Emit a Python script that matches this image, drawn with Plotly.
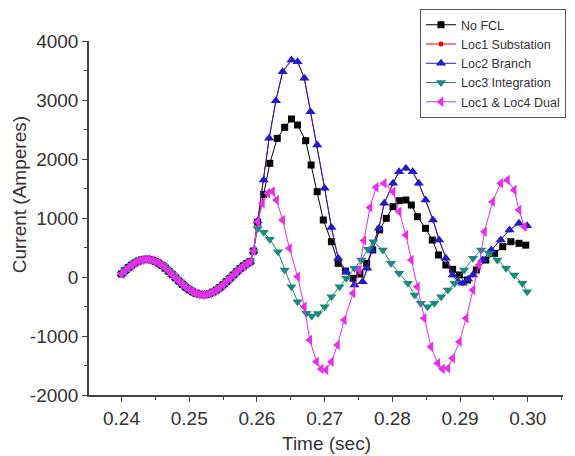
import plotly.graph_objects as go

# ---- shared pre-fault samples (all five cases coincide) ----
pre_t = [0.2400, 0.2405, 0.2410, 0.2415, 0.2420, 0.2425, 0.2430, 0.2435, 0.2440, 0.2445,
         0.2450, 0.2455, 0.2460, 0.2465, 0.2470, 0.2475, 0.2480, 0.2485, 0.2490, 0.2495,
         0.2500, 0.2505, 0.2510, 0.2515, 0.2520, 0.2525, 0.2530, 0.2535, 0.2540, 0.2545,
         0.2550, 0.2555, 0.2560, 0.2565, 0.2570, 0.2575, 0.2580, 0.2585, 0.2590, 0.2595]
pre_v = [52, 107, 158, 203, 240, 270, 290, 299, 298, 286,
         265, 233, 194, 148, 96, 41, -15, -71, -124, -173,
         -216, -251, -278, -294, -300, -295, -280, -255, -221, -179,
         -131, -78, -22, 34, 89, 141, 188, 229, 261, 440]

# ---- post-fault samples per case ----
black_t = [0.2601, 0.2610, 0.2619, 0.2630, 0.2641, 0.2651, 0.2660, 0.2672, 0.2680, 0.2689,
           0.2698, 0.2710, 0.2720, 0.2731, 0.2742, 0.2752, 0.2762, 0.2771, 0.2781, 0.2791,
           0.2801, 0.2810, 0.2820, 0.2828, 0.2837, 0.2849, 0.2859, 0.2868, 0.2879, 0.2889,
           0.2899, 0.2911, 0.2924, 0.2938, 0.2951, 0.2963, 0.2975, 0.2987, 0.2997]
black_v = [930, 1400, 1927, 2350, 2537, 2678, 2576, 2310, 1898, 1446,
           966, 598, 232, 100, -22, 50, 230, 458, 797, 995,
           1192, 1293, 1305, 1220, 1022, 825, 627, 373, 203, 130,
           34, -51, 119, 288, 401, 514, 598, 571, 540]

blue_t = [0.2601, 0.2610, 0.2618, 0.2628, 0.2638, 0.2651, 0.2660, 0.2670, 0.2679, 0.2689,
          0.2700, 0.2710, 0.2720, 0.2732, 0.2744, 0.2756, 0.2763, 0.2769, 0.2780, 0.2788,
          0.2801, 0.2810, 0.2820, 0.2830, 0.2839, 0.2849, 0.2860, 0.2869, 0.2879, 0.2889,
          0.2897, 0.2904, 0.2912, 0.2919, 0.2933, 0.2946, 0.2960, 0.2973, 0.2987, 0.2999]
blue_v = [950, 1644, 2350, 2988, 3480, 3678, 3650, 3367, 2802, 2237,
          1503, 840, 317, 90, -136, -80, 150, 458, 825, 1249,
          1588, 1785, 1842, 1785, 1588, 1305, 966, 627, 317, 34,
          -80, -107, -40, 34, 288, 458, 627, 797, 910, 870]

# Loc1 Substation is hidden beneath Loc2 Branch in the picture
red_t = list(blue_t)
red_v = list(blue_v)

teal_t = [0.2601, 0.2610, 0.2619, 0.2631, 0.2641, 0.2651, 0.2660, 0.2673, 0.2681, 0.2690,
          0.2700, 0.2710, 0.2722, 0.2732, 0.2744, 0.2754, 0.2764, 0.2772, 0.2786, 0.2798,
          0.2810, 0.2823, 0.2833, 0.2842, 0.2852, 0.2862, 0.2872, 0.2882, 0.2892, 0.2906,
          0.2919, 0.2931, 0.2943, 0.2955, 0.2968, 0.2980, 0.2992, 0.2999]
teal_v = [820, 760, 640, 429, 119, -164, -418, -615, -660, -620,
          -503, -334, -164, -22, 147, 288, 470, 598, 458, 232,
          62, -107, -305, -446, -503, -446, -334, -220, -107, 119,
          317, 458, 400, 288, 147, 34, -107, -249]

mag_t = [0.2601, 0.2608, 0.2616, 0.2623, 0.2629, 0.2638, 0.2648, 0.2660, 0.2670, 0.2678,
         0.2688, 0.2695, 0.2702, 0.2710, 0.2719, 0.2729, 0.2742, 0.2751, 0.2758, 0.2767,
         0.2776, 0.2788, 0.2801, 0.2810, 0.2820, 0.2828, 0.2837, 0.2847, 0.2857, 0.2867,
         0.2874, 0.2882, 0.2889, 0.2899, 0.2909, 0.2919, 0.2928, 0.2936, 0.2948, 0.2960,
         0.2970, 0.2980, 0.2987, 0.2995]
mag_v = [938, 1250, 1419, 1450, 1305, 966, 486, 5, -503, -1068,
         -1435, -1560, -1576, -1435, -1153, -729, -276, 119, 620, 1180,
         1520, 1590, 1446, 1107, 712, 288, -164, -700, -1181, -1463,
         -1560, -1548, -1378, -1096, -700, -220, 203, 768, 1276, 1588,
         1644, 1475, 1136, 850]

names = ["No FCL", "Loc1 Substation", "Loc2 Branch", "Loc3 Integration", "Loc1 & Loc4 Dual"]
colors = ["#000000", "#ff0000", "#1e1ec8", "#1a8a80", "#e82ee8"]
symbols = ["square", "circle", "triangle-up", "triangle-down", "triangle-left"]
sizes = [7, 5, 9, 9, 9]
series = [(black_t, black_v), (red_t, red_v), (blue_t, blue_v), (teal_t, teal_v), (mag_t, mag_v)]

x_ticks = [0.24, 0.25, 0.26, 0.27, 0.28, 0.29, 0.30]
x_labels = ["0.24", "0.25", "0.26", "0.27", "0.28", "0.29", "0.30"]
y_ticks = [-2000, -1000, 0, 1000, 2000, 3000, 4000]
y_labels = ["-2000", "-1000", "0", "1000", "2000", "3000", "4000"]

FONT = "Liberation Sans, Arial, sans-serif"

fig = go.Figure()
for (t, v), nm, c, s, sz in zip(series, names, colors, symbols, sizes):
    fig.add_trace(go.Scatter(
        x=pre_t + t, y=pre_v + v, name=nm, mode="lines+markers",
        line=dict(color=c, width=1),
        marker=dict(color=c, symbol=s, size=sz, line=dict(width=0)),
    ))

axis_common = dict(
    showline=True, linecolor="#444", linewidth=1.5, showgrid=False, zeroline=False,
    ticks="outside", ticklen=5, tickwidth=1.2, tickcolor="#444",
    tickfont=dict(family=FONT, size=19, color="#333"),
    mirror=False, automargin=False,
)
fig.update_xaxes(range=[0.2352, 0.3052], tickvals=x_ticks, ticktext=x_labels,
                 minor=dict(tickvals=[0.245, 0.255, 0.265, 0.275, 0.285, 0.295, 0.305],
                            ticks="outside", ticklen=3, tickcolor="#444"),
                 **axis_common)
fig.update_yaxes(range=[-2000, 4000], tickvals=y_ticks, ticktext=y_labels,
                 minor=dict(tickvals=[-1500, -500, 500, 1500, 2500, 3500],
                            ticks="outside", ticklen=3, tickcolor="#444"),
                 **axis_common)

fig.add_annotation(text="Current (Amperes)", textangle=-90, xref="paper", yref="paper",
                   x=-0.145, y=0.565, xanchor="center", yanchor="middle", showarrow=False,
                   font=dict(family=FONT, size=19, color="#333"))
fig.add_annotation(text="Time (sec)", xref="paper", yref="paper",
                   x=0.5, y=-0.136, xanchor="center", yanchor="middle", showarrow=False,
                   font=dict(family=FONT, size=19, color="#333"))

# page body has an 8px margin, so the figure is 8px smaller and margins shifted
fig.update_layout(
    width=567, height=448,
    margin=dict(l=81, r=12, t=33, b=61, autoexpand=False),
    paper_bgcolor="white", plot_bgcolor="white",
    showlegend=True,
    legend=dict(x=1.0063, y=1.09, xanchor="right", yanchor="top",
                bgcolor="white", bordercolor="#555", borderwidth=1,
                font=dict(family=FONT, size=12.5, color="#333"),
                tracegroupgap=0, itemwidth=30),
)

fig.write_html("out.html")
